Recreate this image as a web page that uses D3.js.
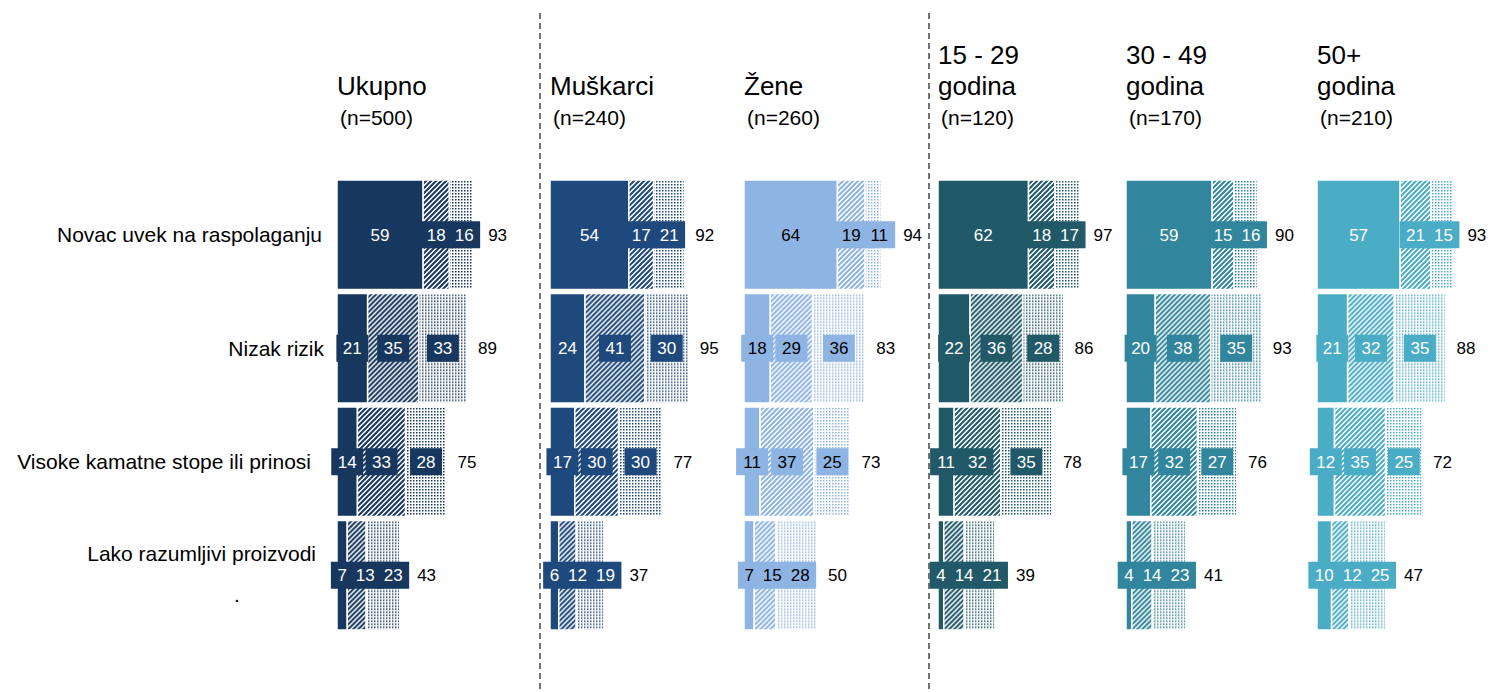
<!DOCTYPE html>
<html>
<head>
<meta charset="utf-8">
<script src="https://cdn.jsdelivr.net/npm/d3@7/dist/d3.min.js"></script>
<style>
  html, body { margin: 0; padding: 0; background: #fff; }
  svg { display: block; font-family: "Liberation Sans", Arial, sans-serif; }
</style>
</head>
<body>
<svg id="chart"></svg>
<script>
// Data
const groups = ["Ukupno", "Muškarci", "Žene", "15 - 29", "30 - 49", "50+"];
const groupTitles = [["Ukupno"], ["Muškarci"], ["Žene"], ["15 - 29", "godina"], ["30 - 49", "godina"], ["50+", "godina"]];
const groupN = ["(n=500)", "(n=240)", "(n=260)", "(n=120)", "(n=170)", "(n=210)"];
const categories = ["Novac uvek na raspolaganju", "Nizak rizik", "Visoke kamatne stope ili prinosi", "Lako razumljivi proizvodi"];

// one array per group, one value per category
const seg1 = [[59, 21, 14, 7], [54, 24, 17, 6], [64, 18, 11, 7], [62, 22, 11, 4], [59, 20, 17, 4], [57, 21, 12, 10]];
const seg2 = [[18, 35, 33, 13], [17, 41, 30, 12], [19, 29, 37, 15], [18, 36, 32, 14], [15, 38, 32, 14], [21, 32, 35, 12]];
const seg3 = [[16, 33, 28, 23], [21, 30, 30, 19], [11, 36, 25, 28], [17, 28, 35, 21], [16, 35, 27, 23], [15, 35, 25, 25]];
const totals = [[93, 89, 75, 43], [92, 95, 77, 37], [94, 83, 73, 50], [97, 86, 78, 39], [90, 93, 76, 41], [93, 88, 72, 47]];

// Layout + styles
const W = 1493, H = 692;
const groupColors = ["#17375E", "#1F497D", "#8EB4E3", "#215968", "#31859C", "#4BACC6"];
const labelColors = ["#fff", "#fff", "#000", "#fff", "#fff", "#fff"];
const groupX = d3.scaleOrdinal().domain(groups).range([337, 550, 744, 938, 1126, 1317]);
const rowLabelEnd = [322, 324, 311, 316];
const dividers = [540, 929];

const svg = d3.select("#chart").attr("width", W).attr("height", H);
const defs = svg.append("defs");

// Value scale shared by all panels
const x = d3.scaleLinear().domain([0, 100]).range([0, 146]);
const y = d3.scaleBand().domain(categories).range([180, 630]).paddingInner(0.035);

const digitW = 17 * 0.556; // Arial digit width at 17px

groups.forEach((g, gi) => {
    const c = groupColors[gi];

    // diagonal hatch pattern
    const hatch = defs.append("pattern")
        .attr("id", "hatch" + gi)
        .attr("patternUnits", "userSpaceOnUse")
        .attr("width", 5).attr("height", 5);
    hatch.append("rect").attr("width", 5).attr("height", 5).attr("fill", "#fff");
    hatch.append("path")
        .attr("d", "M-1,1 l2,-2 M0,5 l5,-5 M4,6 l2,-2")
        .attr("stroke", c).attr("stroke-width", 2);

    // dotted pattern
    const dots = defs.append("pattern")
        .attr("id", "dots" + gi)
        .attr("patternUnits", "userSpaceOnUse")
        .attr("width", 3).attr("height", 3);
    dots.append("rect").attr("width", 3).attr("height", 3).attr("fill", "#fff");
    dots.append("rect").attr("x", 1).attr("y", 1).attr("width", 1.5).attr("height", 1.5)
        .attr("fill", c);
});

// Dashed dividers
svg.selectAll("line.divider")
    .data(dividers)
    .join("line")
    .attr("class", "divider")
    .attr("x1", d => d).attr("x2", d => d)
    .attr("y1", 13).attr("y2", H)
    .attr("stroke", "#000")
    .attr("stroke-width", 1.1)
    .attr("stroke-dasharray", "6,4");

// Row labels
svg.selectAll("text.rowLabel")
    .data(categories)
    .join("text")
    .attr("class", "rowLabel")
    .attr("x", (d, i) => rowLabelEnd[i])
    .attr("y", (d, i) => y(d) + y.bandwidth() / 2 + 7.5 - (i === 3 ? 22 : 0))
    .attr("text-anchor", "end")
    .attr("font-size", "21px")
    .attr("fill", "#000")
    .text(d => d);

svg.append("text")
    .attr("x", 237)
    .attr("y", y(categories[3]) + y.bandwidth() / 2 + 27)
    .attr("text-anchor", "middle")
    .attr("font-size", "21px")
    .text(".");

groups.forEach((g, gi) => {
    const gx = groupX(g);
    const panel = svg.append("g").attr("transform", `translate(${gx},0)`);

    // headers
    const titles = groupTitles[gi];
    titles.forEach((t, ti) => {
        panel.append("text")
            .attr("x", 0)
            .attr("y", 95 - (titles.length - 1 - ti) * 31)
            .attr("font-size", "26px")
            .attr("fill", "#000")
            .text(t);
    });
    panel.append("text")
        .attr("x", 3)
        .attr("y", 125)
        .attr("font-size", "21px")
        .attr("fill", "#000")
        .text(groupN[gi]);

    const rows = categories.map((cat, ci) => {
        const vals = [seg1[gi][ci], seg2[gi][ci], seg3[gi][ci]];
        let start = 0;
        const segs = vals.map((v, si) => {
            const s = { v, si, x0: x(start), x1: x(start + v) };
            start += v;
            return s;
        });
        return { cat, segs, total: totals[gi][ci] };
    });

    const fills = [groupColors[gi], `url(#hatch${gi})`, `url(#dots${gi})`];

    const row = panel.selectAll("g.row")
        .data(rows)
        .join("g")
        .attr("class", "row")
        .attr("transform", d => `translate(0,${y(d.cat)})`);

    row.selectAll("rect.seg")
        .data(d => d.segs)
        .join("rect")
        .attr("class", "seg")
        .attr("x", d => d.x0)
        .attr("y", 0)
        .attr("width", d => Math.max(0, d.x1 - d.x0))
        .attr("height", y.bandwidth())
        .attr("fill", d => fills[d.si])
        .attr("stroke", "#fff")
        .attr("stroke-width", 1.5);

    // data labels: centred on segment, nudged right when they would collide
    row.each(function(d) {
        const r = d3.select(this);
        const cy = y.bandwidth() / 2;
        let prev = null;
        const labels = d.segs.map(s => {
            const w = String(s.v).length * digitW;
            let cx = (s.x0 + s.x1) / 2;
            if (prev) cx = Math.max(cx, prev.cx + prev.w / 2 + w / 2 + 9);
            prev = { cx, w };
            return { v: s.v, cx, w };
        });

        r.selectAll("rect.box")
            .data(labels)
            .join("rect")
            .attr("class", "box")
            .attr("x", l => l.cx - l.w / 2 - 6.5)
            .attr("y", cy - 13.5)
            .attr("width", l => l.w + 13)
            .attr("height", 27)
            .attr("fill", groupColors[gi]);

        r.selectAll("text.val")
            .data(labels)
            .join("text")
            .attr("class", "val")
            .attr("x", l => l.cx)
            .attr("y", cy)
            .attr("dy", "0.36em")
            .attr("text-anchor", "middle")
            .attr("font-size", "17px")
            .attr("fill", labelColors[gi])
            .text(l => l.v);

        const last = labels[labels.length - 1];
        const barEnd = d.segs[d.segs.length - 1].x1;
        const tx = Math.max(barEnd + 3, last.cx + last.w / 2 + 6.5) + 8;
        r.append("text")
            .attr("class", "total")
            .attr("x", tx)
            .attr("y", cy)
            .attr("dy", "0.36em")
            .attr("font-size", "17px")
            .attr("fill", "#000")
            .text(d.total);
    });
});
</script>
</body>
</html>
